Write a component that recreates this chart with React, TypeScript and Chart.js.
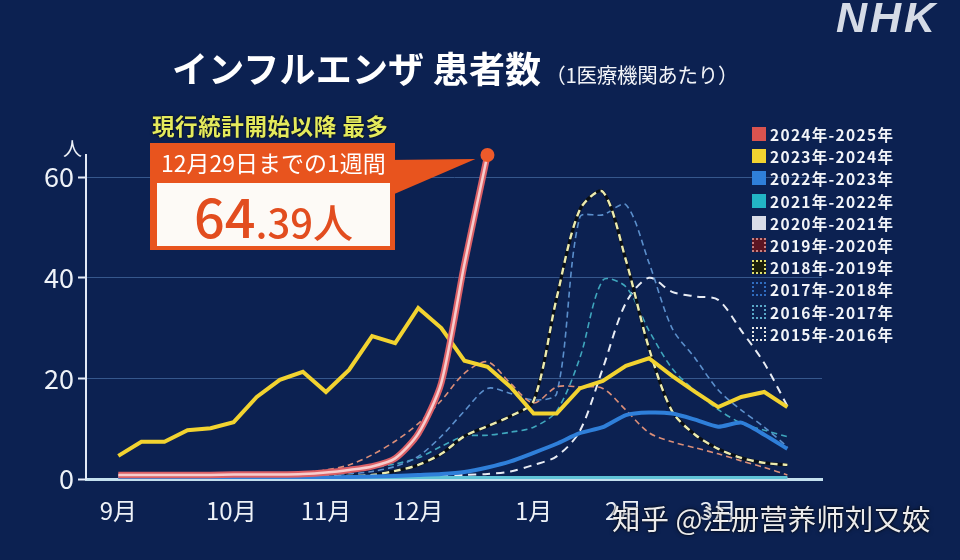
import React, { useEffect, useRef } from "react";
import { Chart, registerables } from "chart.js";

Chart.register(...registerables);

// ---- data (weekly, from the first week of September) ----
const seasonNames = [
  "2024年-2025年",
  "2023年-2024年",
  "2022年-2023年",
  "2021年-2022年",
  "2020年-2021年",
  "2019年-2020年",
  "2018年-2019年",
  "2017年-2018年",
  "2016年-2017年",
  "2015年-2016年",
];
const monthLabels = ["9月", "10月", "11月", "12月", "1月", "2月", "3月"];
const monthWeekPos = [0, 4.9, 9, 13, 18, 21.9, 26];
const yTickValues = [0, 20, 40, 60];

const s2024 = [0.8, 0.8, 0.8, 0.8, 0.8, 0.9, 0.9, 0.9, 1.0, 1.3, 1.8, 2.5, 4.1, 9.0, 19.1, 42.7, 64.39];
const s2023 = [4.6, 7.4, 7.4, 9.7, 10.1, 11.3, 16.3, 19.7, 21.3, 17.3, 21.7, 28.4, 27.0, 34.0, 30.0, 23.5, 22.3, 18.3, 13.0, 13.0, 18.0, 19.5, 22.5, 24.0, 20.5, 17.3, 14.3, 16.3, 17.3, 14.3];
const s2022 = [0.1, 0.1, 0.1, 0.1, 0.1, 0.2, 0.2, 0.2, 0.3, 0.3, 0.4, 0.5, 0.6, 0.8, 1.0, 1.4, 2.3, 3.5, 5.2, 7.0, 9.1, 10.3, 12.7, 13.2, 13.0, 11.8, 10.4, 11.2, 8.8, 6.0];
const s2021 = [0.2, 0.2, 0.2, 0.2, 0.2, 0.2, 0.2, 0.2, 0.2, 0.2, 0.2, 0.2, 0.2, 0.2, 0.2, 0.2, 0.2, 0.2, 0.2, 0.2, 0.2, 0.2, 0.2, 0.2, 0.2, 0.2, 0.2, 0.2, 0.2, 0.2];
const s2020 = [0.05, 0.05, 0.05, 0.05, 0.05, 0.05, 0.05, 0.05, 0.05, 0.05, 0.05, 0.05, 0.05, 0.05, 0.05, 0.05, 0.05, 0.05, 0.05, 0.05, 0.05, 0.05, 0.05, 0.05, 0.05, 0.05, 0.05, 0.05, 0.05, 0.05];
const s2019 = [0.7, 0.7, 0.8, 0.8, 0.9, 0.9, 1.0, 1.1, 1.3, 1.8, 2.8, 4.8, 7.5, 11.0, 15.6, 21.0, 23.3, 19.0, 15.1, 18.3, 18.3, 18.0, 13.7, 9.2, 7.4, 6.2, 5.0, 3.6, 2.3, 0.8];
const s2018 = [0.3, 0.3, 0.3, 0.3, 0.3, 0.3, 0.4, 0.4, 0.4, 0.5, 0.6, 0.8, 1.6, 2.8, 5.0, 8.5, 10.5, 12.5, 15.5, 36.0, 53.5, 57.1, 43.5, 26.0, 13.5, 8.8, 6.0, 4.2, 3.2, 2.8];
const s2017 = [0.3, 0.3, 0.3, 0.3, 0.3, 0.4, 0.4, 0.5, 0.6, 0.8, 1.0, 1.5, 2.5, 4.5, 8.5, 13.5, 18.0, 17.0, 15.7, 17.0, 52.0, 52.5, 54.5, 43.0, 30.0, 24.0, 17.7, 13.7, 10.3, 6.4];
const s2016 = [0.5, 0.5, 0.6, 0.6, 0.7, 0.7, 0.8, 0.9, 1.0, 1.2, 1.6, 2.2, 3.0, 4.2, 6.5, 8.5, 8.7, 9.3, 10.3, 13.5, 24.0, 39.5, 38.2, 29.5, 22.0, 17.5, 13.8, 11.1, 9.7, 8.4];
const s2015 = [0.2, 0.2, 0.2, 0.2, 0.2, 0.2, 0.2, 0.3, 0.3, 0.3, 0.3, 0.4, 0.4, 0.5, 0.6, 0.8, 1.0, 1.5, 2.8, 4.5, 9.5, 22.0, 35.0, 40.0, 37.2, 36.3, 35.6, 29.5, 23.0, 14.5];

const BG = "#0c2151";
const FONT = "'Noto Sans CJK JP', 'Noto Sans', sans-serif";

const toXY = (arr: number[]) => arr.map((v, i) => ({ x: i, y: v }));

const legendSwatches: React.CSSProperties[] = [
  { background: "#d9534f" },
  { background: "#f2d330" },
  { background: "#2f7fd9" },
  { background: "#22b5c5" },
  { background: "#d8dce8" },
  { background: "#5c1522", border: "2px dotted #c98080" },
  { background: "#1b1f0a", border: "2px dotted #e0e070" },
  { background: "transparent", border: "2px dotted #2f6cc0" },
  { background: "transparent", border: "2px dotted #5aa8c8" },
  { background: "transparent", border: "2px dotted #e8e8e8" },
];

const pointerPlugin = {
  id: "calloutPointer",
  beforeDatasetsDraw(chart: any) {
    const meta = chart.getDatasetMeta(0);
    const pts = meta.data;
    if (!pts || !pts.length) return;
    const pt = pts[pts.length - 1];
    const ctx = chart.ctx;
    ctx.save();
    ctx.fillStyle = "#e8541e";
    ctx.beginPath();
    ctx.moveTo(385, 160);
    ctx.lineTo(pt.x - 12, pt.y + 4);
    ctx.lineTo(385, 198);
    ctx.closePath();
    ctx.fill();
    ctx.restore();
  },
};

export default function App() {
  const canvasRef = useRef<HTMLCanvasElement | null>(null);

  useEffect(() => {
    document.body.style.margin = "0";
    document.body.style.background = BG;
    const canvas = canvasRef.current;
    if (!canvas) return;

    const thin = (data: number[], color: string, width: number, dash: number[]) => ({
      data: toXY(data),
      borderColor: color,
      borderWidth: width,
      borderDash: dash,
      pointRadius: 0,
      tension: 0.3,
      fill: false,
    });

    const chart = new Chart(canvas, {
      type: "line",
      data: {
        datasets: [
          {
            label: seasonNames[0],
            data: toXY(s2024),
            borderColor: "#f7cdcd",
            borderWidth: 2.5,
            tension: 0.25,
            pointRadius: (c: any) => (c.dataIndex === s2024.length - 1 ? 7 : 0),
            pointBackgroundColor: "#ee5a2a",
            pointBorderWidth: 0,
            clip: false,
          } as any,
          {
            label: seasonNames[0] + "-outline",
            data: toXY(s2024),
            borderColor: "#dc6066",
            borderWidth: 6.5,
            tension: 0.25,
            pointRadius: 0,
            clip: false,
          } as any,
          {
            label: seasonNames[1],
            data: toXY(s2023),
            borderColor: "#f2d330",
            borderWidth: 4,
            tension: 0,
            pointRadius: 0,
          },
          {
            label: seasonNames[2],
            data: toXY(s2022),
            borderColor: "#2f7fd9",
            borderWidth: 4,
            tension: 0.2,
            pointRadius: 0,
          },
          {
            label: seasonNames[3],
            data: toXY(s2021),
            borderColor: "#5fc3d6",
            borderWidth: 4,
            pointRadius: 0,
          },
          {
            label: seasonNames[4],
            data: toXY(s2020),
            borderColor: "#dfe4ee",
            borderWidth: 3,
            pointRadius: 0,
          },
          { label: seasonNames[5], ...thin(s2019, "#db8e78", 1.6, [6, 4]) },
          { label: seasonNames[6], ...thin(s2018, "#ecebb0", 2.4, [7, 5]) },
          { label: seasonNames[6] + "-under", ...thin(s2018, "#0a0f14", 3.2, []) },
          { label: seasonNames[7], ...thin(s2017, "#5b8fcc", 1.6, [6, 4]) },
          { label: seasonNames[8], ...thin(s2016, "#3fa6bd", 1.6, [6, 4]) },
          { label: seasonNames[9], ...thin(s2015, "#e8ecf4", 2.0, [8, 6]) },
        ] as any,
      },
      options: {
        animation: false,
        responsive: false,
        maintainAspectRatio: false,
        layout: { padding: { left: 0, top: 155, right: 138, bottom: 0 } },
        plugins: { legend: { display: false }, tooltip: { enabled: false } },
        scales: {
          x: {
            type: "linear",
            min: -1.4,
            max: 30.5,
            afterBuildTicks: (scale: any) => {
              scale.ticks = monthWeekPos.map((v) => ({ value: v }));
            },
            afterFit: (scale: any) => {
              scale.height = 81;
            },
            ticks: {
              autoSkip: false,
              maxRotation: 0,
              padding: 17,
              color: "#eef2f8",
              font: { family: FONT, size: 24 },
              callback: (_v: any, i: number) => monthLabels[i],
            },
            grid: { display: false, drawTicks: false },
            border: { display: true, color: "#c4e0ee", width: 3 },
          },
          y: {
            min: 0,
            max: 64.4,
            afterBuildTicks: (scale: any) => {
              scale.ticks = yTickValues.map((v) => ({ value: v }));
            },
            afterFit: (scale: any) => {
              scale.width = 86;
            },
            ticks: {
              padding: 4,
              color: "#eef2f8",
              font: { family: FONT, size: 27 },
            },
            grid: {
              color: (c: any) => (c.tick && c.tick.value === 0 ? "rgba(0,0,0,0)" : "#36578c"),
              lineWidth: 1,
              tickColor: "#e8eef8",
              tickLength: 8,
              tickWidth: 2,
            },
            border: { display: true, color: "#e2e9f5", width: 2 },
          },
        },
      },
      plugins: [pointerPlugin],
    } as any);

    return () => chart.destroy();
  }, []);

  return (
    <div
      style={{
        position: "fixed",
        left: 0,
        top: 0,
        width: 960,
        height: 560,
        background: BG,
        overflow: "hidden",
        fontFamily: FONT,
      }}
    >
      <canvas ref={canvasRef} width={960} height={560} style={{ position: "absolute", left: 0, top: 0 }} />

      {/* NHK logo */}
      <div
        style={{
          position: "absolute",
          left: 836,
          top: -7,
          fontFamily: "'Liberation Sans', sans-serif",
          fontWeight: 900,
          fontStyle: "italic",
          fontSize: 43,
          color: "#d5dbe6",
          letterSpacing: 3,
          whiteSpace: "nowrap",
        }}
      >
        NHK
      </div>

      {/* Title */}
      <div style={{ position: "absolute", left: 172, top: 41, display: "flex", alignItems: "baseline", color: "#fff", whiteSpace: "nowrap" }}>
        <span style={{ fontSize: 36, fontWeight: 700, letterSpacing: 0.2 }}>インフルエンザ 患者数</span>
        <span style={{ fontSize: 20.5, marginLeft: 4, color: "#f2f4f8", letterSpacing: -0.3 }}>（1医療機関あたり）</span>
      </div>

      {/* y unit */}
      <div style={{ position: "absolute", left: 63, top: 134, fontSize: 19, color: "#eef2f8" }}>人</div>

      {/* Callout */}
      <div
        style={{
          position: "absolute",
          left: 152,
          top: 109,
          fontSize: 22.5,
          fontWeight: 700,
          color: "#e4ea5c",
          textShadow: "0 0 3px #000",
          letterSpacing: 0.6,
          whiteSpace: "nowrap",
        }}
      >
        現行統計開始以降 最多
      </div>
      <div style={{ position: "absolute", left: 150, top: 143, width: 245, height: 107, background: "#e8541e" }} />
      <div style={{ position: "absolute", left: 161, top: 145, fontSize: 23, color: "#fff", whiteSpace: "nowrap" }}>
        12月29日までの1週間
      </div>
      <div
        style={{
          position: "absolute",
          left: 157,
          top: 183,
          width: 233,
          height: 63,
          background: "#fdfaf6",
          display: "flex",
          alignItems: "center",
          justifyContent: "center",
          color: "#e24d1f",
          fontWeight: 500,
          whiteSpace: "nowrap",
        }}
      >
        <span style={{ fontSize: 54, lineHeight: 1 }}>64</span>
        <span style={{ fontSize: 40, lineHeight: 1, marginTop: 12 }}>.39人</span>
      </div>

      {/* Legend */}
      <div style={{ position: "absolute", left: 752, top: 123 }}>
        {seasonNames.map((name, i) => (
          <div key={name} style={{ display: "flex", alignItems: "center", height: 22.2 }}>
            <div style={{ width: 14, height: 14, boxSizing: "border-box", ...legendSwatches[i] }} />
            <span
              style={{
                marginLeft: 4,
                fontSize: 15.5,
                fontWeight: 700,
                color: "#f2f4f8",
                letterSpacing: 1.3,
                whiteSpace: "nowrap",
              }}
            >
              {name}
            </span>
          </div>
        ))}
      </div>

      {/* Watermark */}
      <div
        style={{
          position: "absolute",
          left: 612,
          top: 497,
          fontSize: 28.5,
          color: "rgba(255,255,255,0.92)",
          textShadow: "0 0 2px #000, 0 0 4px rgba(0,0,0,0.6)",
          whiteSpace: "nowrap",
        }}
      >
        知乎 @注册营养师刘又姣
      </div>
    </div>
  );
}
